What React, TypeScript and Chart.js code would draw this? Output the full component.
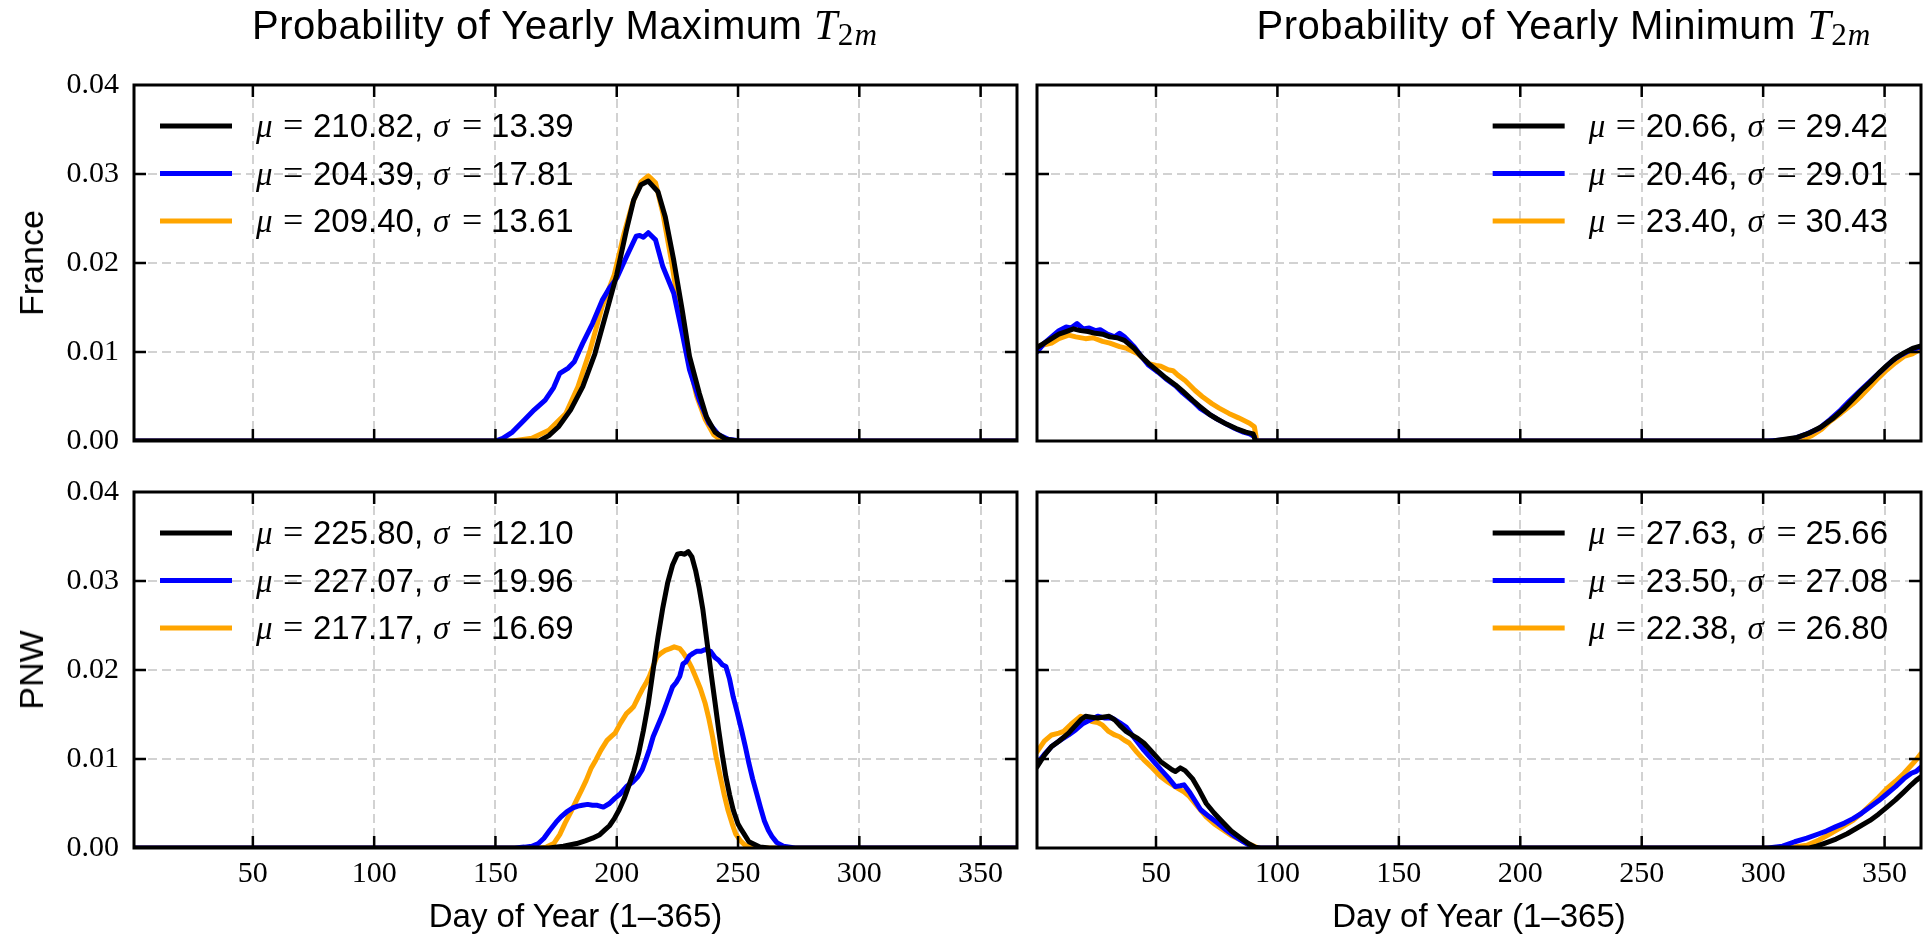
import { useEffect, useRef } from "react";
import { Chart, registerables } from "chart.js";

Chart.register(...registerables);

const W = 1927;
const H = 936;

// ---------- axes / ticks ----------
const xTicks = [50, 100, 150, 200, 250, 300, 350];
const yTicks = [0, 0.01, 0.02, 0.03, 0.04];
const xMin = 1;
const xMax = 365;
const yMin = 0;
const yMax = 0.04;

const seriesColors = ["#000000", "#0000ff", "#ffa500"];

type Pts = [number, number][];

// ---------- France, yearly maximum ----------
const franceMaxBlack: Pts = [
  [1, 0], [168, 0], [172, 0.0006], [176, 0.0016], [181, 0.0035], [186, 0.0061], [191, 0.0098],
  [196, 0.0147], [200, 0.0187], [204, 0.0237], [207, 0.0271], [210, 0.0288], [213, 0.0292],
  [217, 0.028], [220, 0.0252], [223.5, 0.0203], [227, 0.0147], [230, 0.0095], [234, 0.0054],
  [237, 0.0027], [240.5, 0.001], [245, 0.0002], [250, 0], [365, 0],
];
const franceMaxBlue: Pts = [
  [1, 0], [150, 0], [153, 0.0003], [157, 0.001], [162, 0.0024], [166, 0.0035], [170.5, 0.0046],
  [174, 0.006], [176.5, 0.0076], [180, 0.0082], [182.5, 0.0089], [186, 0.011], [190, 0.0132],
  [194, 0.0158], [197, 0.0172], [200, 0.0183], [204, 0.0207], [208, 0.023], [209.5, 0.0231],
  [211, 0.0229], [213, 0.0234], [216, 0.0226], [219, 0.0196], [223.5, 0.0166], [227, 0.0121],
  [230, 0.008], [234, 0.0046], [238, 0.002], [242, 0.0007], [246, 0.0002], [251, 0], [365, 0],
];
const franceMaxOrange: Pts = [
  [1, 0], [157, 0], [165, 0.0003], [172, 0.0012], [179, 0.0031], [184, 0.0061], [189, 0.0102],
  [194, 0.0151], [199, 0.0187], [203, 0.0233], [206.5, 0.0267], [210, 0.0291], [213, 0.0298],
  [216, 0.029], [219, 0.0256], [222.5, 0.0203], [226, 0.0143], [229.5, 0.0091], [233, 0.005],
  [236.5, 0.0024], [240, 0.0007], [243, 0.0001], [246, 0], [365, 0],
];
const franceMaxMu = [210.82, 204.39, 209.4];
const franceMaxSigma = [13.39, 17.81, 13.61];

// ---------- France, yearly minimum ----------
const franceMinBlack: Pts = [
  [1, 0.0105], [4, 0.011], [7, 0.0115], [10, 0.012], [13, 0.0123], [16, 0.0126], [19, 0.0124],
  [22, 0.0123], [25, 0.0121], [28, 0.012], [31, 0.0117], [34, 0.0116], [37, 0.0113], [41, 0.0104],
  [44, 0.0095], [47, 0.0087], [51, 0.0078], [54, 0.0071], [58, 0.0063], [61, 0.0056], [65, 0.0046],
  [68, 0.0039], [72, 0.003], [75, 0.0025], [79, 0.0019], [83, 0.0014], [87, 0.001], [90, 0.0008],
  [91, 0], [304, 0], [309, 0.0002], [314, 0.0004], [319, 0.0009], [324, 0.0016], [329, 0.0026],
  [333.5, 0.0037], [337, 0.0047], [340.5, 0.0057], [344, 0.0066], [347.5, 0.0076], [351, 0.0085],
  [354.5, 0.0093], [358, 0.0099], [361.5, 0.0104], [365, 0.0107],
];
const franceMinBlue: Pts = [
  [1, 0.01], [4, 0.011], [7, 0.0117], [10, 0.0124], [13, 0.0128], [15, 0.0127], [17.5, 0.0132],
  [20, 0.0126], [22.5, 0.0127], [25, 0.0124], [27, 0.0125], [30, 0.012], [33, 0.0117], [35, 0.0121],
  [37, 0.0117], [41, 0.0106], [44, 0.0095], [47, 0.0085], [51, 0.0077], [54, 0.007], [58, 0.0062],
  [61, 0.0054], [65, 0.0045], [68, 0.0037], [72, 0.003], [75.5, 0.0024], [79, 0.0019], [82.5, 0.0014],
  [86, 0.001], [88.5, 0.0008], [90.5, 0.0005], [91, 0], [302, 0], [308, 0.0001], [313, 0.0003],
  [318, 0.0008], [323, 0.0014], [327.5, 0.0024], [332, 0.0035], [335.5, 0.0045], [339, 0.0054],
  [342.5, 0.0063], [346, 0.0072], [350, 0.0082], [353.5, 0.0091], [357, 0.0097], [360.5, 0.0102],
  [363, 0.0104], [365, 0.0106],
];
const franceMinOrange: Pts = [
  [1, 0.0106], [4, 0.0108], [7, 0.011], [10, 0.0115], [14, 0.0119], [17, 0.0117], [21, 0.0115],
  [24, 0.0116], [28, 0.0112], [31, 0.011], [35, 0.0106], [38, 0.0104], [42.5, 0.0098], [45, 0.0092],
  [47, 0.0087], [50, 0.0085], [52, 0.0084], [55, 0.008], [57, 0.0079], [59, 0.0074], [62, 0.0068],
  [66, 0.0057], [69, 0.005], [73, 0.0042], [76, 0.0037], [80, 0.0031], [84, 0.0026], [88.5, 0.002],
  [90.5, 0.0016], [91.5, 0], [308, 0], [315.5, 0.0001], [320, 0.0006], [324, 0.0013], [327.5, 0.0022],
  [332, 0.0031], [337, 0.0042], [340.5, 0.0051], [344, 0.0061], [347.5, 0.0071], [351, 0.008],
  [354.5, 0.0088], [358, 0.0095], [361.5, 0.0098], [363.5, 0.0101], [365, 0.0103],
];
const franceMinMu = [20.66, 20.46, 23.4];
const franceMinSigma = [29.42, 29.01, 30.43];

// ---------- PNW, yearly maximum ----------
const pnwMaxBlack: Pts = [
  [1, 0], [172, 0], [178, 0.0002], [183.5, 0.0005], [187, 0.0008], [190, 0.0011], [193, 0.0015],
  [195, 0.002], [197, 0.0025], [199, 0.0033], [201, 0.0043], [203, 0.0055], [205, 0.007], [207, 0.0086],
  [209, 0.0106], [211, 0.0132], [213, 0.0162], [215, 0.02], [217, 0.0237], [219, 0.027], [221, 0.0298],
  [223, 0.0318], [225, 0.033], [226.5, 0.0331], [228, 0.033], [229.5, 0.0333], [231, 0.0327],
  [232.5, 0.0312], [234, 0.0292], [235.5, 0.0268], [237, 0.0236], [238.7, 0.02], [240.5, 0.0164],
  [242, 0.0133], [243.5, 0.0105], [245, 0.008], [246.5, 0.006], [248, 0.0043], [250, 0.0027],
  [251.5, 0.002], [254.5, 0.0007], [259, 0.0001], [263, 0], [365, 0],
];
const pnwMaxBlue: Pts = [
  [1, 0], [158, 0], [162, 0.0001], [165, 0.0002], [167.7, 0.0005], [170, 0.0011], [172.4, 0.002],
  [175, 0.0029], [177, 0.0035], [179.5, 0.0041], [181.9, 0.0045], [184, 0.0047], [185.8, 0.0048],
  [188, 0.0049], [190, 0.0048], [192, 0.0048], [194.5, 0.0046], [197, 0.005], [199.3, 0.0056],
  [201.5, 0.0061], [204, 0.0069], [206.5, 0.0074], [208.7, 0.008], [210.5, 0.0088], [212, 0.0099],
  [213.5, 0.0111], [215, 0.0125], [217, 0.0138], [219, 0.0151], [221, 0.0166], [223, 0.0181],
  [224.5, 0.0186], [226, 0.0193], [227.3, 0.0207], [228.5, 0.0209], [230, 0.0216], [231.6, 0.0219],
  [233, 0.0221], [234.8, 0.0221], [236.5, 0.0223], [238.7, 0.0221], [240.5, 0.0214], [242, 0.0211],
  [243.5, 0.0206], [245, 0.0204], [246.5, 0.019], [248, 0.017], [249.7, 0.0152], [251.4, 0.0133],
  [253, 0.0114], [254.5, 0.0095], [256, 0.0078], [257.7, 0.0061], [259.3, 0.0045], [260.8, 0.0031],
  [262.5, 0.002], [264, 0.0013], [266, 0.0006], [268.7, 0.0002], [273.5, 0], [365, 0],
];
const pnwMaxOrange: Pts = [
  [1, 0], [168, 0], [171, 0.0001], [174, 0.0005], [176.5, 0.0015], [178.7, 0.0028], [181, 0.004],
  [183.5, 0.0054], [185.5, 0.0065], [187.4, 0.0076], [189.5, 0.009], [191.4, 0.0099], [193.5, 0.011],
  [196, 0.0121], [198, 0.0126], [199.3, 0.0129], [201.5, 0.014], [204, 0.0151], [206, 0.0156],
  [207, 0.0159], [209, 0.017], [210.5, 0.0178], [212, 0.0185], [213.5, 0.0193], [215, 0.0204],
  [216.6, 0.0215], [218.3, 0.0219], [220, 0.0222], [222, 0.0224], [223.7, 0.0226], [226, 0.0224],
  [227.5, 0.0219], [229.3, 0.0211], [231, 0.0202], [232.4, 0.0193], [234.5, 0.0179], [236.4, 0.0163],
  [238, 0.0145], [239.5, 0.0125], [241, 0.0102], [242.7, 0.008], [244.3, 0.006], [245.8, 0.0043],
  [247.5, 0.0028], [249, 0.0016], [251, 0.0008], [253, 0.0003], [257.7, 0], [365, 0],
];
const pnwMaxMu = [225.8, 227.07, 217.17];
const pnwMaxSigma = [12.1, 19.96, 16.69];

// ---------- PNW, yearly minimum ----------
const pnwMinBlack: Pts = [
  [1, 0.0091], [4, 0.0104], [7, 0.0114], [10, 0.012], [14, 0.0129], [17, 0.0138], [19, 0.0144],
  [21, 0.0148], [23.5, 0.0147], [26, 0.0146], [28, 0.0147], [30.7, 0.0148], [33, 0.0144], [35, 0.0138],
  [37.7, 0.0131], [40, 0.0127], [42.5, 0.0123], [45, 0.0118], [48, 0.0109], [52, 0.0097], [54, 0.0093],
  [56.6, 0.0088], [58, 0.0086], [60, 0.009], [62, 0.0087], [65, 0.0078], [68, 0.0064], [70.7, 0.005],
  [74, 0.0039], [77.8, 0.0028], [81, 0.0019], [85, 0.0011], [88, 0.0005], [90.8, 0.0001], [93, 0],
  [319, 0], [322, 0.0002], [325, 0.0005], [330, 0.001], [334.6, 0.0016], [339, 0.0023], [344, 0.0031],
  [347.5, 0.0038], [351, 0.0046], [354.5, 0.0054], [358, 0.0063], [361, 0.0071], [363, 0.0076],
  [365, 0.008],
];
const pnwMinBlue: Pts = [
  [1, 0.0095], [4, 0.0105], [7, 0.0114], [10, 0.012], [14, 0.0127], [17, 0.0133], [20, 0.014],
  [23, 0.0144], [26, 0.0148], [29, 0.0146], [32, 0.0146], [35, 0.0141], [37.7, 0.0136], [41, 0.0124],
  [45, 0.011], [48.5, 0.0099], [52, 0.0088], [55, 0.0079], [58, 0.0069], [60, 0.007], [61.5, 0.0071],
  [64, 0.0062], [68.4, 0.0043], [72, 0.0035], [75.4, 0.0028], [79, 0.002], [82.5, 0.0013], [86, 0.0007],
  [88.5, 0.0003], [91, 0], [302, 0], [308, 0.0002], [313, 0.0007], [318, 0.0011], [323, 0.0016],
  [326, 0.0019], [330, 0.0024], [333.5, 0.0028], [337, 0.0033], [340.5, 0.0039], [344, 0.0046],
  [347.5, 0.0053], [351, 0.0061], [354.5, 0.0069], [358, 0.0078], [361, 0.0084], [363, 0.0086],
  [365, 0.0091],
];
const pnwMinOrange: Pts = [
  [1, 0.0108], [4, 0.012], [7, 0.0127], [10, 0.0129], [12, 0.0131], [15, 0.0139], [19, 0.0148],
  [21, 0.0146], [23.6, 0.0142], [26, 0.0141], [28, 0.0138], [30.5, 0.0131], [33, 0.0127], [35, 0.0125],
  [37, 0.0121], [39, 0.0118], [42, 0.0108], [45, 0.0099], [48.5, 0.009], [52, 0.008], [55, 0.0074],
  [59, 0.0067], [61.5, 0.0063], [63.7, 0.0058], [67, 0.0047], [70.7, 0.0035], [74, 0.0027],
  [77.8, 0.002], [81, 0.0014], [84.9, 0.0009], [88, 0.0005], [90.5, 0.0002], [92, 0], [306, 0],
  [312, 0.0001], [318, 0.0003], [323, 0.0009], [327.6, 0.0016], [332, 0.0023], [337, 0.0031],
  [340.5, 0.0039], [344, 0.0048], [347.5, 0.0057], [351, 0.0067], [354.5, 0.0075], [358, 0.0084],
  [361, 0.0093], [363, 0.0099], [365, 0.0106],
];
const pnwMinMu = [27.63, 23.5, 22.38];
const pnwMinSigma = [25.66, 27.08, 26.8];

// ---------- layout ----------
const Y_AXIS_W = 100;
const X_AXIS_H = 60;
const TICK_LEN = 12;

interface Area { left: number; top: number; right: number; bottom: number }
interface PanelSpec {
  key: string;
  area: Area;
  series: Pts[];
  mu: number[];
  sigma: number[];
  legendSide: "left" | "right";
  showX: boolean;
  showY: boolean;
}

const panels: PanelSpec[] = [
  { key: "tl", area: { left: 134, top: 85, right: 1017, bottom: 441 }, series: [franceMaxBlack, franceMaxBlue, franceMaxOrange], mu: franceMaxMu, sigma: franceMaxSigma, legendSide: "left", showX: false, showY: true },
  { key: "tr", area: { left: 1037, top: 85, right: 1921, bottom: 441 }, series: [franceMinBlack, franceMinBlue, franceMinOrange], mu: franceMinMu, sigma: franceMinSigma, legendSide: "right", showX: false, showY: false },
  { key: "bl", area: { left: 134, top: 492, right: 1017, bottom: 848 }, series: [pnwMaxBlack, pnwMaxBlue, pnwMaxOrange], mu: pnwMaxMu, sigma: pnwMaxSigma, legendSide: "left", showX: true, showY: true },
  { key: "br", area: { left: 1037, top: 492, right: 1921, bottom: 848 }, series: [pnwMinBlack, pnwMinBlue, pnwMinOrange], mu: pnwMinMu, sigma: pnwMinSigma, legendSide: "right", showX: true, showY: false },
];

const SANS = '"Liberation Sans", Arial, sans-serif';
const SERIF = '"Liberation Serif", "Times New Roman", serif';

function drawLegend(ctx: CanvasRenderingContext2D, a: any, mu: number[], sigma: number[], side: string) {
  const fs = 33;
  const sans = `${fs}px ${SANS}`;
  const ital = `italic ${fs}px ${SERIF}`;
  const eqFont = `36px ${SERIF}`;
  for (let i = 0; i < mu.length; i++) {
    const n1 = mu[i].toFixed(2) + ",";
    const n2 = sigma[i].toFixed(2);
    ctx.font = sans;
    const w1 = ctx.measureText(n1).width;
    const w2 = ctx.measureText(n2).width;
    const sigmaOff = 58 + w1 + 10;
    const total = sigmaOff + 58 + w2;
    const y = a.top + 41 + i * 47.5;
    const tx = side === "left" ? a.left + 121 : a.right - 33 - total;
    const lx1 = tx - 23;
    const lx0 = lx1 - 72;
    ctx.strokeStyle = seriesColors[i];
    ctx.lineWidth = 5;
    ctx.lineCap = "butt";
    ctx.beginPath();
    ctx.moveTo(lx0, y);
    ctx.lineTo(lx1, y);
    ctx.stroke();
    ctx.fillStyle = "#000";
    ctx.textBaseline = "alphabetic";
    ctx.textAlign = "left";
    const by = y + 11;
    ctx.font = ital;
    ctx.fillText("\u03bc", tx + 1, by);
    ctx.font = eqFont;
    ctx.fillText("=", tx + 28, by);
    ctx.font = sans;
    ctx.fillText(n1, tx + 58, by);
    ctx.font = ital;
    ctx.fillText("\u03c3", tx + sigmaOff, by);
    ctx.font = eqFont;
    ctx.fillText("=", tx + sigmaOff + 29, by);
    ctx.font = sans;
    ctx.fillText(n2, tx + sigmaOff + 58, by);
  }
}

function makeDecor(spec: PanelSpec) {
  return {
    id: "decor_" + spec.key,
    afterDraw(chart: any) {
      const { ctx, chartArea: a, scales } = chart;
      ctx.save();
      ctx.strokeStyle = "#000";
      ctx.lineWidth = 2.5;
      ctx.beginPath();
      for (const v of xTicks) {
        const px = scales.x.getPixelForValue(v);
        ctx.moveTo(px, a.bottom);
        ctx.lineTo(px, a.bottom - TICK_LEN);
        ctx.moveTo(px, a.top);
        ctx.lineTo(px, a.top + TICK_LEN);
      }
      for (const v of yTicks) {
        if (v <= yMin || v >= yMax) continue;
        const py = scales.y.getPixelForValue(v);
        ctx.moveTo(a.left, py);
        ctx.lineTo(a.left + TICK_LEN, py);
        ctx.moveTo(a.right, py);
        ctx.lineTo(a.right - TICK_LEN, py);
      }
      ctx.stroke();
      ctx.lineWidth = 3;
      ctx.strokeRect(a.left, a.top, a.right - a.left, a.bottom - a.top);
      drawLegend(ctx, a, spec.mu, spec.sigma, spec.legendSide);
      ctx.restore();
    },
  };
}

function Panel({ spec }: { spec: PanelSpec }) {
  const ref = useRef<HTMLCanvasElement | null>(null);
  useEffect(() => {
    if (!ref.current) return;
    const a = spec.area;
    const chart = new Chart(ref.current, {
      type: "line",
      data: {
        datasets: spec.series.map((s, i) => ({
          data: s.map(([x, y]) => ({ x, y })),
          borderColor: seriesColors[i],
          backgroundColor: seriesColors[i],
          borderWidth: 5,
          pointRadius: 0,
          tension: 0,
          fill: false,
          borderJoinStyle: "round" as const,
          borderCapStyle: "round" as const,
        })),
      },
      options: {
        responsive: false,
        animation: false,
        devicePixelRatio: 1,
        events: [],
        layout: {
          padding: {
            left: a.left - Y_AXIS_W,
            top: a.top,
            right: W - a.right,
            bottom: H - a.bottom - X_AXIS_H,
          },
        },
        plugins: { legend: { display: false }, tooltip: { enabled: false }, title: { display: false } },
        scales: {
          x: {
            type: "linear",
            min: xMin,
            max: xMax,
            afterBuildTicks: (s: any) => {
              s.ticks = xTicks.map((value) => ({ value }));
            },
            afterFit: (s: any) => {
              s.height = X_AXIS_H;
            },
            grid: { color: "#d2d2d2", lineWidth: 2, drawTicks: false },
            border: { display: false, dash: [9, 5] },
            ticks: {
              display: spec.showX,
              autoSkip: false,
              maxRotation: 0,
              padding: 8,
              color: "#000",
              font: { family: SERIF, size: 30 },
            },
          },
          y: {
            type: "linear",
            min: yMin,
            max: yMax,
            afterBuildTicks: (s: any) => {
              s.ticks = yTicks.map((value) => ({ value }));
            },
            afterFit: (s: any) => {
              s.width = Y_AXIS_W;
            },
            grid: { color: "#d2d2d2", lineWidth: 2, drawTicks: false },
            border: { display: false, dash: [9, 5] },
            ticks: {
              display: spec.showY,
              padding: 15,
              color: "#000",
              font: { family: SERIF, size: 30 },
              callback: (v: any) => Number(v).toFixed(2),
            },
          },
        },
      },
      plugins: [makeDecor(spec)],
    } as any);
    return () => chart.destroy();
  }, [spec]);
  return (
    <canvas
      ref={ref}
      width={W}
      height={H}
      style={{ position: "absolute", left: 0, top: 0, width: W, height: H }}
    />
  );
}

const titleStyle: any = {
  position: "absolute",
  top: 5,
  transform: "translateX(-50%)",
  fontFamily: SANS,
  fontSize: 40,
  lineHeight: "40px",
  letterSpacing: "0.5px",
  whiteSpace: "nowrap",
  color: "#000",
};

function T2m() {
  return (
    <>
      <span style={{ fontFamily: SERIF, fontStyle: "italic", fontSize: "1.05em" }}>T</span>
      <span style={{ fontFamily: SERIF, fontSize: "0.78em", position: "relative", top: 6, letterSpacing: "1px" }}>
        2<span style={{ fontStyle: "italic" }}>m</span>
      </span>
    </>
  );
}

const yLabelStyle: any = {
  position: "absolute",
  left: 31,
  transform: "translate(-50%, -50%) rotate(-90deg)",
  fontFamily: SANS,
  fontSize: 34,
  lineHeight: "34px",
  whiteSpace: "nowrap",
  color: "#000",
};

const xLabelStyle: any = {
  position: "absolute",
  top: 899,
  transform: "translateX(-50%)",
  fontFamily: SANS,
  fontSize: 33,
  lineHeight: "33px",
  whiteSpace: "nowrap",
  color: "#000",
};

const rowLabels = ["France", "PNW"];
const xAxisLabel = "Day of Year (1\u2013365)";

export default function App() {
  return (
    <div style={{ position: "absolute", left: 0, top: 0, width: W, height: H, background: "#fff", overflow: "hidden" }}>
      {panels.map((p) => (
        <Panel key={p.key} spec={p} />
      ))}
      <div style={{ ...titleStyle, left: 565 }}>
        Probability of Yearly Maximum <T2m />
      </div>
      <div style={{ ...titleStyle, left: 1564 }}>
        Probability of Yearly Minimum <T2m />
      </div>
      <div style={{ ...yLabelStyle, top: 263 }}>{rowLabels[0]}</div>
      <div style={{ ...yLabelStyle, top: 670 }}>{rowLabels[1]}</div>
      <div style={{ ...xLabelStyle, left: 575.5 }}>{xAxisLabel}</div>
      <div style={{ ...xLabelStyle, left: 1479 }}>{xAxisLabel}</div>
    </div>
  );
}
